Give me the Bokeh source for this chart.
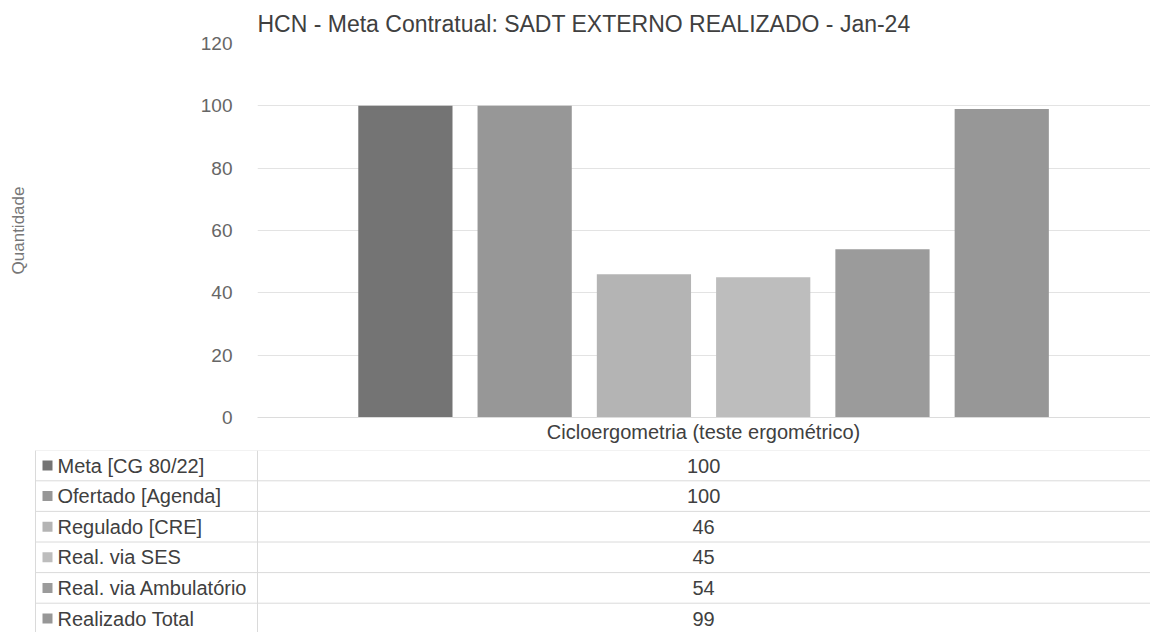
from bokeh.plotting import figure
from bokeh.layouts import column
from bokeh.models import Range1d, FixedTicker
from bokeh.embed import file_html
from bokeh.resources import INLINE
from bokeh.core.properties import value

# ---------------- data ----------------
title_text = "HCN - Meta Contratual: SADT EXTERNO REALIZADO - Jan-24"
category = "Cicloergometria (teste ergométrico)"
series = ["Meta [CG 80/22]", "Ofertado [Agenda]", "Regulado [CRE]",
          "Real. via SES", "Real. via Ambulatório", "Realizado Total"]
values = [100, 100, 46, 45, 54, 99]
colors = ["#747474", "#979797", "#b4b4b4", "#bdbdbd", "#9b9b9b", "#979797"]
y_ticks = [0, 20, 40, 60, 80, 100, 120]
y_label = "Quantidade"

FONT = "Liberation Sans"
W = 1150
TOTAL_H = 632

# layout helpers (pixels -> category units)
PX = 119.27
FRAME_LEFT = 257
X0 = -1.24
X1 = X0 + (W - FRAME_LEFT) / PX
def ux(px):
    return X0 + (px - FRAME_LEFT) / PX

pos = list(range(len(series)))
center = sum(pos) / len(pos)

# ---------------- chart ----------------
P_H = 450
p = figure(width=W, height=P_H, x_range=Range1d(X0, X1), y_range=Range1d(0, 120),
           output_backend="svg", toolbar_location=None,
           min_border_left=FRAME_LEFT, min_border_right=0, min_border_top=43, min_border_bottom=33)
p.frame_align = False
p.outline_line_color = None

p.title.text = title_text
p.title.align = "left"
p.title.text_font = FONT
p.title.text_font_size = "23px"
p.title.text_font_style = "normal"
p.title.text_color = "#404040"
p.title.standoff = 13
p.title.offset = 0

p.vbar(x=pos, top=values, bottom=0, width=0.79, fill_color=colors, line_color=None)

p.xaxis.ticker = FixedTicker(ticks=[center])
p.xaxis.major_label_overrides = {center: category}
p.xaxis.axis_line_color = "#dcdcdc"
p.xaxis.major_tick_line_color = None
p.xaxis.major_tick_out = 0
p.xaxis.major_tick_in = 0
p.xaxis.minor_tick_line_color = None
p.xaxis.major_label_standoff = 3
p.xaxis.major_label_text_font = FONT
p.xaxis.major_label_text_font_size = "20px"
p.xaxis.major_label_text_color = "#404040"

p.yaxis.ticker = FixedTicker(ticks=y_ticks)
p.yaxis.axis_line_color = None
p.yaxis.major_tick_line_color = None
p.yaxis.minor_tick_line_color = None
p.yaxis.major_label_standoff = 19
p.yaxis.major_label_text_font = FONT
p.yaxis.major_label_text_font_size = "19px"
p.yaxis.major_label_text_color = "#666666"
p.yaxis.axis_label = y_label
p.yaxis.axis_label_text_font = FONT
p.yaxis.axis_label_text_font_size = "17px"
p.yaxis.axis_label_text_font_style = "normal"
p.yaxis.axis_label_text_color = "#777777"
p.yaxis.axis_label_standoff = 170

p.ygrid.ticker = FixedTicker(ticks=y_ticks)
p.ygrid.grid_line_color = "#e3e3e3"
p.xgrid.visible = False

# ---------------- data table ----------------
ROW0 = 465.0     # y of first data row centre
ROWH = 30.6
T_H = TOTAL_H - P_H
def uy(py):
    return (py - ROW0) / ROWH
yt_top = uy(P_H)
yt_bot = uy(TOTAL_H)

t = figure(width=W, height=T_H, x_range=Range1d(ux(0), X1), y_range=Range1d(yt_bot, yt_top),
           output_backend="svg", toolbar_location=None, min_border=0)
t.frame_align = False
t.axis.visible = False
t.grid.visible = False
t.outline_line_color = None

rows = list(range(len(series)))
left_x = ux(35)
bounds = [r - 0.5 for r in rows] + [rows[-1] + 0.5]
t.segment(x0=[left_x] * len(bounds), x1=[X1] * len(bounds), y0=bounds, y1=bounds,
          line_color="#dadada", line_width=1)
t.segment(x0=[left_x, X0], x1=[left_x, X0], y0=[-0.5, yt_top], y1=[yt_bot, yt_bot],
          line_color="#dadada", line_width=1)

t.scatter(x=[ux(47)] * len(rows), y=rows, marker="square", size=10,
          fill_color=colors, line_color=None)
t.text(x=[ux(57)] * len(rows), y=rows, text=series, text_align="left",
       text_baseline="middle", text_font=value(FONT), text_font_size="20px",
       text_color="#404040")
t.text(x=[center] * len(rows), y=rows, text=[str(v) for v in values], text_align="center",
       text_baseline="middle", text_font=value(FONT), text_font_size="20px",
       text_color="#404040")

layout = column(p, t, spacing=0)
open("out.html", "w").write(file_html(layout, INLINE))
